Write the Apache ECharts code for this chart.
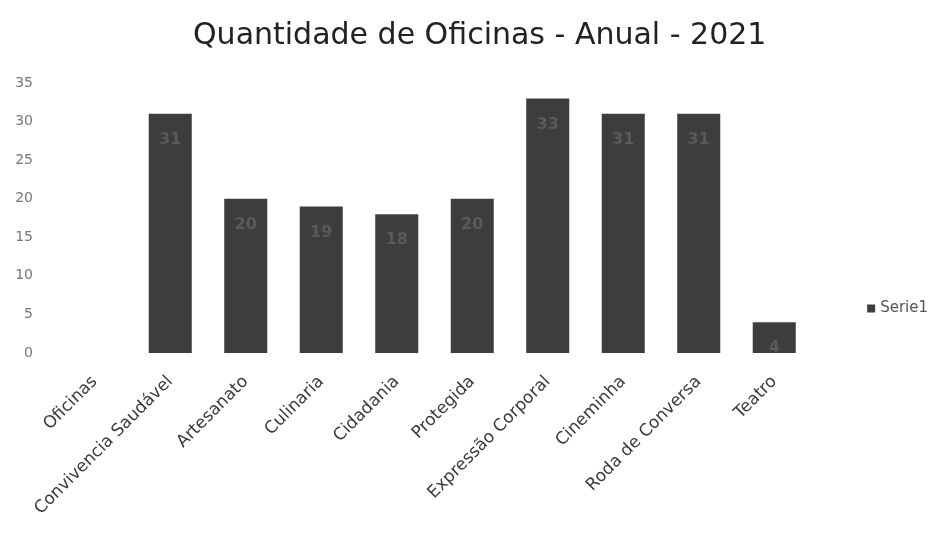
<!DOCTYPE html>
<html>
<head>
<meta charset="utf-8">
<script src="https://cdn.jsdelivr.net/npm/echarts@6/dist/echarts.min.js"></script>
<style>
  html, body { margin: 0; padding: 0; background: #fff; }
  #chart { width: 937px; height: 535px; }
</style>
</head>
<body>
<div id="chart"></div>
<script>
// categories and values
const categories = ['Oficinas', 'Convivencia Saudável', 'Artesanato', 'Culinaria', 'Cidadania',
  'Protegida', 'Expressão Corporal', 'Cineminha', 'Roda de Conversa', 'Teatro']
const serie1 = [null, 31, 20, 19, 18, 20, 33, 31, 31, 4]
const yTicks = [0, 35, 5] // min, max, interval

const chart = echarts.init(document.getElementById('chart'))

const option = {
  animation: false,
  backgroundColor: '#fff',
  title: {
    text: 'Quantidade de Oficinas - Anual - 2021',
    left: 188,
    top: 16,
    textStyle: { fontFamily: 'DejaVu Sans', fontSize: 30, fontWeight: 'normal', color: '#222' }
  },
  legend: {
    orient: 'vertical',
    right: 4,
    top: 296,
    itemWidth: 8,
    itemHeight: 8,
    itemGap: 4,
    icon: 'rect',
    textStyle: { fontFamily: 'DejaVu Sans', fontSize: 15, color: '#555' },
    data: ['Serie1']
  },
  grid: { left: 57, right: 125, top: 83, bottom: 182 },
  xAxis: {
    type: 'category',
    data: categories,
    axisLine: { show: false },
    axisTick: { show: false },
    axisLabel: {
      rotate: 45,
      interval: 0,
      margin: 26,
      fontFamily: 'DejaVu Sans',
      fontSize: 17,
      color: '#3a3a3a'
    }
  },
  yAxis: {
    type: 'value',
    min: yTicks[0],
    max: yTicks[1],
    interval: yTicks[2],
    splitLine: { show: false },
    axisLine: { show: false },
    axisTick: { show: false },
    axisLabel: { margin: 24, fontFamily: 'DejaVu Sans', fontSize: 14, color: '#777' }
  },
  series: [{
    name: 'Serie1',
    type: 'bar',
    data: serie1,
    barCategoryGap: '43%',
    itemStyle: { color: '#3d3d3d' },
    label: {
      show: true,
      position: 'insideTop',
      distance: 18,
      fontFamily: 'DejaVu Sans',
      fontSize: 16,
      fontWeight: 'bold',
      color: '#5a5a5a'
    }
  }]
}

chart.setOption(option)
</script>
</body>
</html>
